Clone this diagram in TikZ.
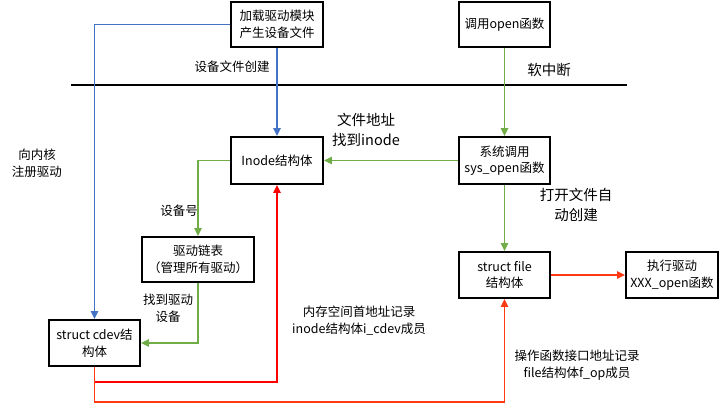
\documentclass[tikz,border=0pt]{standalone}
\usepackage{fontspec}
\setmainfont{Noto Sans CJK SC}
\usetikzlibrary{arrows.meta}

\definecolor{lineblue}{HTML}{4472C4}
\definecolor{linegreen}{HTML}{70AD47}
\definecolor{linered}{HTML}{FF0000}
\definecolor{lineorange}{HTML}{FF3A12}

\tikzset{
  box/.style={draw, line width=1.6pt, align=center, inner sep=1pt,
    font=\fontsize{12.5}{16.5}\selectfont},
  tag/.style={align=center, inner sep=0pt, font=\fontsize{12.5}{17}\selectfont},
  bigtag/.style={align=center, inner sep=0pt, font=\fontsize{14.5}{20}\selectfont},
  flow/.style={line width=1.9pt, -{Triangle[length=8pt,width=7pt]}},
}

\begin{document}
\begin{tikzpicture}[x=1pt, y=-1pt]
  \useasboundingbox (0,0) rectangle (720,404);

  % Boxes
  \node [box, minimum width=92, minimum height=45] (load) at (277,24.5) {加载驱动模块\\产生设备文件};
  \node [box, minimum width=91, minimum height=45] (callopen) at (504.5,24.5) {调用open函数};
  \node [box, minimum width=92, minimum height=47] (inode) at (277,160.5) {Inode结构体};
  \node [box, minimum width=91, minimum height=47] (sysopen) at (504.5,160.5) {系统调用\\sys\_open函数};
  \node [box, minimum width=112, minimum height=45] (drvlist) at (198,259.5) {驱动链表\\（管理所有驱动）};
  \node [box, minimum width=91, minimum height=46] (cdev) at (94.5,343) {struct cdev结\\构体};
  \node [box, minimum width=91, minimum height=46] (sfile) at (504.5,275) {struct file\\结构体};
  \node [box, minimum width=92, minimum height=46] (exec) at (672,275) {执行驱动\\XXX\_open函数};

  % User space / kernel space boundary
  \draw [line width=2pt] (71,85) -- (627,85);

  % Blue: driver loading
  \draw [flow, lineblue] (load.west) -| (cdev.north);
  \draw [flow, lineblue] (load.south) -- (inode.north);

  % Green: open call path
  \draw [flow, linegreen] (callopen.south) -- (sysopen.north);
  \draw [flow, linegreen] (sysopen.west) -- (inode.east);
  \draw [flow, linegreen] (inode.west) -| (drvlist.north);
  \draw [flow, linegreen] (drvlist.south) |- (cdev.east);
  \draw [flow, linegreen] (sysopen.south) -- (sfile.north);

  % Red: address records
  \coordinate (redturn) at (94.5,382);
  \coordinate (orangeturn) at (94.5,402);
  \draw [flow, linered] (cdev.south) -- (redturn) -| (inode.south);
  \draw [flow, lineorange] (cdev.south) -- (orangeturn) -| (sfile.south);
  \draw [flow, lineorange] (sfile.east) -- (exec.west);

  % Labels
  \node [tag] (createlbl) at (232,67) {设备文件创建};
  \node [bigtag] (softirq) at (549,70) {软中断};
  \node [bigtag] (findlbl) at (366,130) {文件地址\\找到inode};
  \node [tag] (reglbl) at (37,163.5) {向内核\\注册驱动};
  \node [tag] (devnum) at (179,211) {设备号};
  \node [tag] (founddrv) at (168,308) {找到驱动\\设备};
  \node [bigtag] (autolbl) at (576,205) {打开文件自\\动创建};
  \node [tag] (memlbl) at (359,321) {内存空间首地址记录\\inode结构体i\_cdev成员};
  \node [tag] (oplbl) at (577,365) {操作函数接口地址记录\\file结构体f\_op成员};
\end{tikzpicture}
\end{document}
